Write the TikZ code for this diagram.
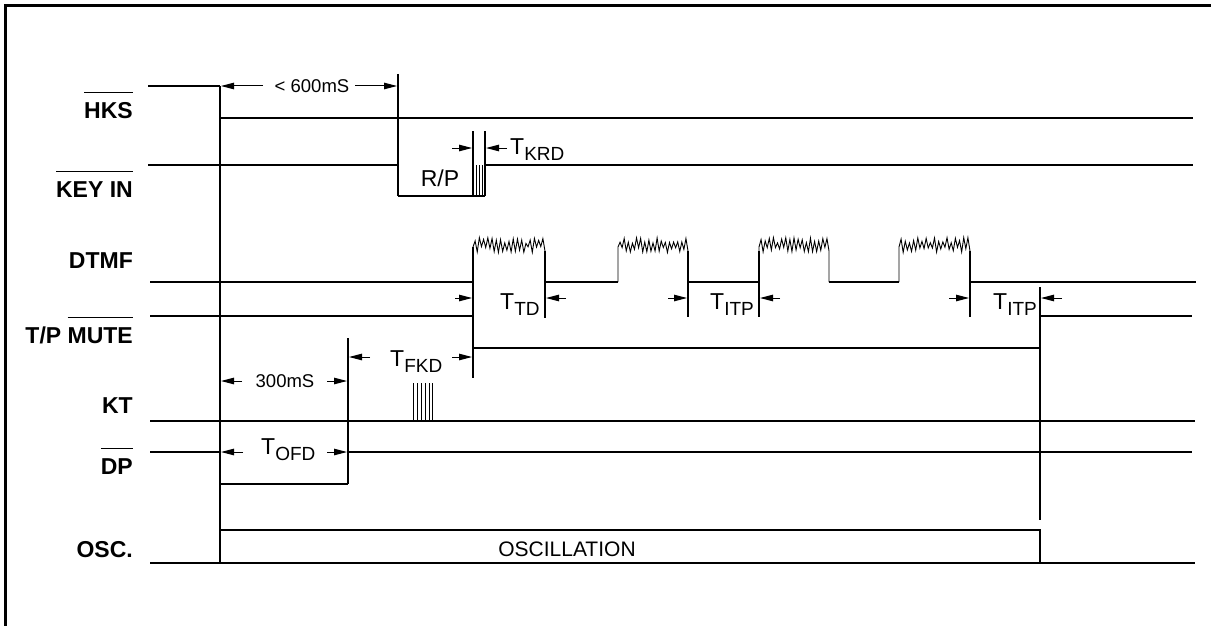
\documentclass[tikz,border=0pt]{standalone}
\usepackage{fontspec}
\usepackage{graphicx}
\setmainfont{Liberation Sans}
\usetikzlibrary{arrows.meta}
\newcommand\ovl[1]{\vbox{\hrule height 1.3pt\kern 9pt\hbox{#1}}}
\newcommand\Tlab[1]{T\raisebox{-6.5pt}{\fontsize{19}{19}\selectfont #1}}
\begin{document}
\begin{tikzpicture}[x=1pt,y=-1pt,
  sig/.style={line width=1.2pt, line join=miter},
  dim/.style={line width=1pt,-{Triangle[length=13pt,width=6.5pt]}},
  lab/.style={font=\fontsize{23}{23}\selectfont\bfseries, anchor=base east, inner sep=0},
  txt/.style={font=\fontsize{18.5}{18.5}\selectfont, inner sep=0},
  tl/.style={font=\fontsize{23}{23}\selectfont, anchor=base west, inner sep=0}]
\useasboundingbox (0,0) rectangle (1211,626);
% frame
\draw[line width=3pt] (5,626) -- (5,6) -- (1211,6);
% signal labels
\node[lab] (lhks) at (133,118) {\ovl{HKS}};
\node[lab] (lkey) at (133,197) {\ovl{KEY IN}};
\node[lab] (ldtmf) at (133,268) {DTMF};
\node[lab] (lmute) at (133,343) {T/P \ovl{MUTE}};
\node[lab] (lkt) at (133,413) {KT};
\node[lab] (ldp) at (133,474) {\ovl{DP}};
\node[lab] (losc) at (133,557) {OSC.};
% HKS
\draw[sig] (148,86) -- (220,86);
\draw[sig] (220,118) -- (1193,118);
% long verticals
\draw[sig] (220,86) -- (220,563);
\draw[sig] (398,74) -- (398,196);
% KEY IN
\draw[sig] (148,165) -- (398,165);
\draw[sig] (398,196) -- (485,196);
\foreach \xx in {473,476,479,482} \draw[line width=0.8pt] (\xx,165) -- (\xx,196);
\draw[sig] (473,131) -- (473,196);
\draw[sig] (485,131) -- (485,196);
\draw[sig] (485,165) -- (1193,165);
\node[txt,font=\fontsize{23}{23}\selectfont] (rp) at (440,178) {R/P};
% <600mS
\node[txt] (t600) at (312,86) {< 600mS};
\draw[dim] (263,86) -- (221,86);
\draw[dim] (355,86) -- (397,86);
% TKRD
\draw[dim] (452,148) -- (472,148);
\draw[dim] (507,148) -- (486,148);
\node[tl] (tkrd) at (510,154) {\Tlab{KRD}};
% DTMF
\draw[sig] (150,282) -- (473,282);
\pgfmathsetseed{12}
\foreach \a/\b in {473/545,618/688,759/829,899/970}{
  \draw[line width=0.9pt] (\a,282) -- (\a,247)
    \foreach \k in {1,...,33}{ -- ({\a+(\b-\a)*\k/34},{245+(-1)^\k*(1.5+6*rnd)}) }
    -- (\b,251) -- (\b,282);
}
\draw[sig] (545,282) -- (618,282);
\draw[sig] (688,282) -- (759,282);
\draw[sig] (829,282) -- (899,282);
\draw[sig] (970,282) -- (1196,282);
% extension lines
\draw[sig] (473,247) -- (473,378);
\draw[sig] (545,251) -- (545,318);
\draw[sig] (688,251) -- (688,317);
\draw[sig] (759,251) -- (759,317);
\draw[sig] (970,251) -- (970,317);
\draw[sig] (1040,287) -- (1040,520);
% T/P MUTE
\draw[sig] (150,316) -- (473,316);
\draw[sig] (473,348) -- (1040,348);
\draw[sig] (1040,316) -- (1192,316);
% TTD, TITP
\draw[dim] (455,298) -- (472,298);
\draw[dim] (566,298) -- (546,298);
\node[tl] (ttd) at (500,309) {\Tlab{TD}};
\draw[dim] (668,298) -- (687,298);
\draw[dim] (780,298) -- (760,298);
\node[tl] (titpa) at (710,309) {\Tlab{ITP}};
\draw[dim] (949,298) -- (969,298);
\draw[dim] (1062,298) -- (1041,298);
\node[tl] (titpb) at (993,309) {\Tlab{ITP}};
% KT
\draw[sig] (150,421) -- (1195,421);
\foreach \xx in {413,417,421,425,429,432} \draw[line width=0.8pt] (\xx,383) -- (\xx,421);
% 300mS, TFKD
\draw[sig] (348,338) -- (348,484);
\node[txt] (t300) at (285,381) {300mS};
\draw[dim] (242,381) -- (221,381);
\draw[dim] (327,381) -- (347,381);
\draw[dim] (370,357) -- (349,357);
\draw[dim] (452,357) -- (472,357);
\node[tl] (tfkd) at (390,366) {\Tlab{FKD}};
% DP
\draw[sig] (150,452) -- (220,452);
\draw[sig] (220,484) -- (348,484);
\draw[sig] (348,452) -- (1192,452);
\draw[dim] (243,452) -- (221,452);
\draw[dim] (327,452) -- (347,452);
\node[tl] (tofd) at (261,454) {\Tlab{OFD}};
% OSC
\draw[sig] (150,563) -- (1195,563);
\draw[sig] (220,530) -- (1040,530) -- (1040,563);
\node[txt,font=\fontsize{21}{21}\selectfont] (tosc) at (567,549) {OSCILLATION};
\end{tikzpicture}
\end{document}
